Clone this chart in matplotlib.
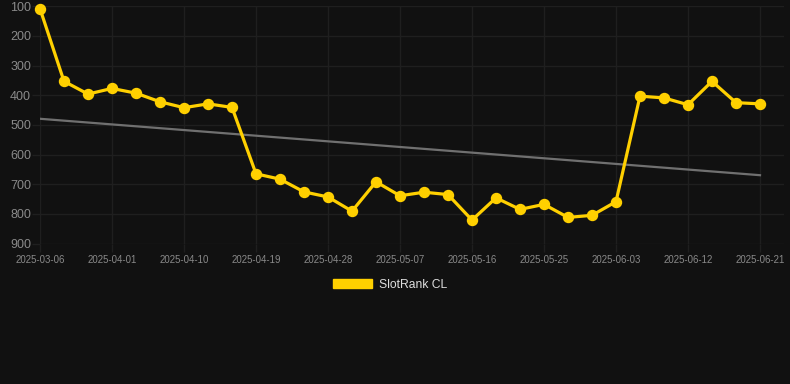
import numpy as np
import matplotlib
matplotlib.use("Agg")
import matplotlib.pyplot as plt
from matplotlib.patches import Patch

# SlotRank CL rank history (lower number = better rank)
dates = ["2025-03-06", "2025-03-26", "2025-03-29", "2025-04-01", "2025-04-04",
         "2025-04-07", "2025-04-10", "2025-04-13", "2025-04-16", "2025-04-19",
         "2025-04-22", "2025-04-25", "2025-04-28", "2025-05-01", "2025-05-04",
         "2025-05-07", "2025-05-10", "2025-05-13", "2025-05-16", "2025-05-19",
         "2025-05-22", "2025-05-25", "2025-05-28", "2025-05-31", "2025-06-03",
         "2025-06-06", "2025-06-09", "2025-06-12", "2025-06-15", "2025-06-18",
         "2025-06-21"]
ranks = [108, 353, 396, 377, 393, 422, 442, 429, 441, 665,
         683, 726, 743, 791, 692, 739, 727, 735, 821, 746,
         785, 768, 812, 805, 759, 403, 409, 432, 353, 425,
         429]
y_ticks = [100, 200, 300, 400, 500, 600, 700, 800, 900]

plt.rcParams['font.family'] = ['Liberation Sans', 'DejaVu Sans']

bg = "#111111"
gold = "#FFD000"
grid = "#1f1f1f"

fig = plt.figure(figsize=(7.9, 3.84), dpi=100, facecolor=bg)
ax = fig.add_axes([40 / 790, (384 - 243.5) / 384, 744 / 790, 237.2 / 384])
ax.set_facecolor(bg)

x = np.arange(len(ranks))

# trend line (least squares fit)
slope, intercept = np.polyfit(x, ranks, 1)
ax.plot(x, intercept + slope * x, color="#707070", lw=1.6, zorder=2)

ax.plot(x, ranks, color=gold, lw=2.3, marker="o", markersize=7.2,
        clip_on=False, zorder=3)

ax.set_xlim(0, 31)
ax.set_ylim(900, 100)
ax.set_yticks(y_ticks)
ax.set_xticks(x[::3])
ax.set_xticklabels(dates[::3])

ax.grid(True, color=grid, lw=1)
ax.tick_params(axis="y", colors=grid, length=6, width=1, pad=0.5,
               labelcolor="#8a8a8a", labelsize=9)
ax.tick_params(axis="x", colors=grid, length=6, width=1, pad=2.5,
               labelcolor="#8a8a8a", labelsize=6.9)
for s in ax.spines.values():
    s.set_visible(False)

fig.legend(handles=[Patch(facecolor=gold, edgecolor=gold, label="SlotRank CL")],
           loc="center", bbox_to_anchor=(390 / 790, 1 - 284.5 / 384),
           frameon=False, handlelength=3.3, handleheight=0.83,
           handletextpad=0.55, fontsize=8.7, labelcolor="#dddddd")

fig.savefig("out.png", dpi=100, facecolor=bg)
